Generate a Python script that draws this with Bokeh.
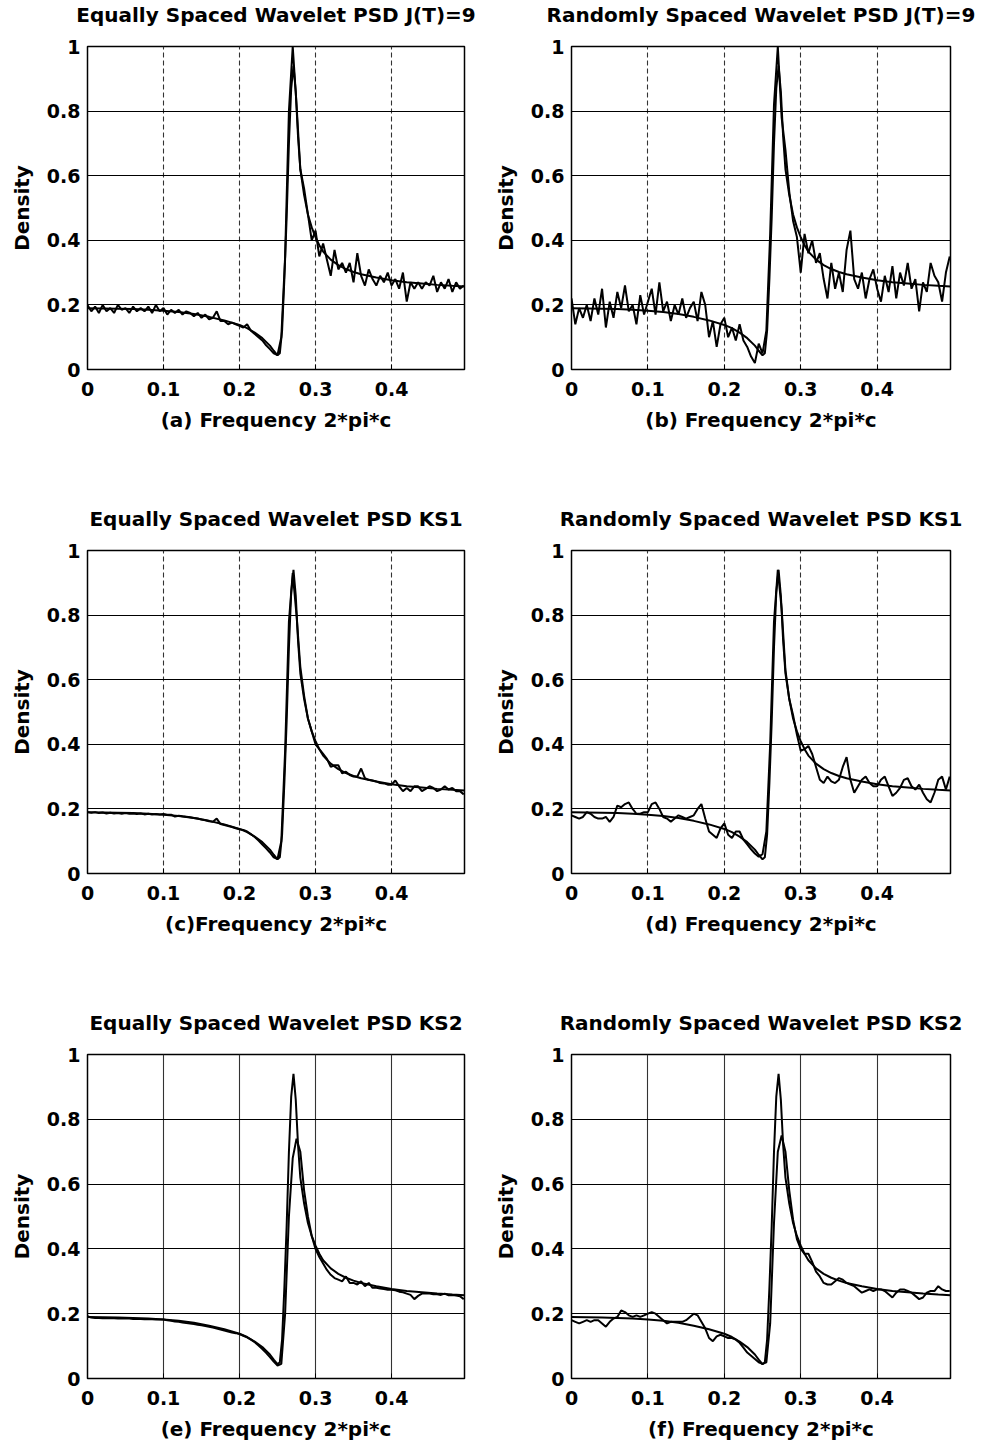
from bokeh.plotting import figure
from bokeh.layouts import column, row
from bokeh.models import FixedTicker, Range1d, CustomJSTickFormatter, Title
from bokeh.embed import file_html
from bokeh.resources import INLINE
import numpy as np

# ---------------- data ----------------
true_freq = [0, 0.02, 0.04, 0.06, 0.08, 0.10, 0.12, 0.14, 0.16, 0.18, 0.20, 0.21, 0.22, 0.23,
             0.24, 0.245, 0.25, 0.253, 0.256, 0.259, 0.262, 0.265, 0.268, 0.271, 0.274, 0.277,
             0.28, 0.285, 0.29, 0.295, 0.30, 0.305, 0.31, 0.32, 0.33, 0.34, 0.35, 0.36, 0.38,
             0.40, 0.42, 0.44, 0.46, 0.48, 0.496]
true_density = [0.190, 0.189, 0.188, 0.187, 0.185, 0.182, 0.178, 0.172, 0.163, 0.152, 0.138,
                0.128, 0.114, 0.097, 0.074, 0.058, 0.044, 0.050, 0.120, 0.280, 0.470, 0.700,
                0.870, 0.940, 0.860, 0.720, 0.620, 0.540, 0.480, 0.440, 0.410, 0.385, 0.365,
                0.340, 0.323, 0.311, 0.302, 0.295, 0.285, 0.276, 0.270, 0.266, 0.262, 0.259,
                0.257]

# estimates on a uniform frequency grid 0, 0.005, ..., 0.495
est_freq = np.round(np.arange(100) * 0.005, 3).tolist()

est_a = [0.20, 0.18, 0.195, 0.175, 0.20, 0.18, 0.19, 0.175, 0.20, 0.185,
         0.19, 0.175, 0.195, 0.18, 0.19, 0.18, 0.195, 0.175, 0.20, 0.18,
         0.19, 0.17, 0.185, 0.175, 0.185, 0.17, 0.18, 0.175, 0.165, 0.175,
         0.16, 0.17, 0.155, 0.16, 0.18, 0.15, 0.15, 0.14, 0.145, 0.14,
         0.135, 0.13, 0.14, 0.12, 0.11, 0.10, 0.09, 0.075, 0.063, 0.05,
         0.045, 0.10, 0.35, 0.80, 1.00, 0.82, 0.62, 0.56, 0.48, 0.40,
         0.43, 0.35, 0.39, 0.34, 0.29, 0.37, 0.31, 0.33, 0.30, 0.33,
         0.27, 0.36, 0.29, 0.26, 0.31, 0.28, 0.26, 0.29, 0.27, 0.30,
         0.26, 0.28, 0.25, 0.30, 0.21, 0.27, 0.25, 0.27, 0.25, 0.27,
         0.26, 0.29, 0.24, 0.27, 0.25, 0.28, 0.24, 0.27, 0.25, 0.26]

est_b = [0.22, 0.14, 0.19, 0.16, 0.20, 0.15, 0.22, 0.17, 0.25, 0.13,
         0.21, 0.16, 0.24, 0.19, 0.26, 0.18, 0.20, 0.14, 0.23, 0.17,
         0.21, 0.25, 0.17, 0.27, 0.18, 0.21, 0.15, 0.20, 0.17, 0.22,
         0.16, 0.19, 0.21, 0.15, 0.24, 0.20, 0.10, 0.15, 0.07, 0.14,
         0.16, 0.10, 0.13, 0.09, 0.14, 0.09, 0.07, 0.04, 0.02, 0.08,
         0.05, 0.12, 0.42, 0.82, 1.00, 0.78, 0.68, 0.55, 0.46, 0.41,
         0.30, 0.42, 0.36, 0.40, 0.33, 0.36, 0.28, 0.22, 0.33, 0.25,
         0.30, 0.24, 0.37, 0.43, 0.28, 0.25, 0.30, 0.22, 0.28, 0.31,
         0.25, 0.21, 0.29, 0.24, 0.32, 0.22, 0.30, 0.26, 0.33, 0.25,
         0.28, 0.18, 0.27, 0.24, 0.33, 0.29, 0.27, 0.21, 0.30, 0.35]

est_c = [0.190, 0.188, 0.190, 0.187, 0.189, 0.186, 0.188, 0.186, 0.187, 0.185,
         0.187, 0.185, 0.186, 0.184, 0.186, 0.183, 0.185, 0.183, 0.184, 0.183,
         0.184, 0.182, 0.182, 0.176, 0.179, 0.177, 0.176, 0.174, 0.172, 0.170,
         0.167, 0.165, 0.162, 0.160, 0.170, 0.153, 0.150, 0.147, 0.144, 0.140,
         0.137, 0.135, 0.130, 0.122, 0.113, 0.102, 0.090, 0.078, 0.065, 0.050,
         0.045, 0.10, 0.38, 0.78, 0.93, 0.80, 0.64, 0.55, 0.48, 0.44,
         0.40, 0.385, 0.37, 0.355, 0.33, 0.335, 0.335, 0.31, 0.315, 0.305,
         0.30, 0.30, 0.325, 0.295, 0.29, 0.288, 0.285, 0.28, 0.279, 0.275,
         0.275, 0.288, 0.27, 0.255, 0.265, 0.255, 0.27, 0.27, 0.255, 0.262,
         0.27, 0.265, 0.255, 0.26, 0.27, 0.26, 0.265, 0.255, 0.255, 0.245]

est_d = [0.18, 0.175, 0.17, 0.175, 0.19, 0.185, 0.175, 0.17, 0.17, 0.175,
         0.16, 0.175, 0.21, 0.205, 0.215, 0.22, 0.20, 0.185, 0.185, 0.19,
         0.19, 0.215, 0.22, 0.20, 0.175, 0.17, 0.16, 0.17, 0.18, 0.175,
         0.17, 0.175, 0.18, 0.20, 0.215, 0.17, 0.13, 0.12, 0.11, 0.14,
         0.155, 0.12, 0.11, 0.13, 0.13, 0.105, 0.09, 0.075, 0.062, 0.052,
         0.06, 0.13, 0.40, 0.78, 0.94, 0.82, 0.63, 0.54, 0.49, 0.43,
         0.38, 0.385, 0.395, 0.37, 0.33, 0.29, 0.28, 0.30, 0.285, 0.28,
         0.29, 0.33, 0.36, 0.29, 0.25, 0.27, 0.29, 0.30, 0.28, 0.27,
         0.27, 0.29, 0.30, 0.27, 0.24, 0.25, 0.265, 0.29, 0.295, 0.27,
         0.26, 0.275, 0.25, 0.23, 0.22, 0.25, 0.29, 0.30, 0.26, 0.30]

est_e = [0.192, 0.188, 0.187, 0.187, 0.186, 0.186, 0.186, 0.186, 0.185, 0.185,
         0.185, 0.185, 0.184, 0.184, 0.184, 0.183, 0.183, 0.183, 0.182, 0.182,
         0.182, 0.180, 0.178, 0.176, 0.175, 0.173, 0.171, 0.170, 0.168, 0.166,
         0.164, 0.162, 0.160, 0.157, 0.154, 0.151, 0.148, 0.145, 0.142, 0.140,
         0.137, 0.132, 0.127, 0.120, 0.112, 0.102, 0.091, 0.079, 0.066, 0.052,
         0.040, 0.045, 0.20, 0.50, 0.68, 0.74, 0.70, 0.58, 0.50, 0.44,
         0.40, 0.375, 0.355, 0.335, 0.32, 0.31, 0.305, 0.30, 0.315, 0.295,
         0.295, 0.29, 0.30, 0.285, 0.295, 0.28, 0.28, 0.278, 0.276, 0.274,
         0.274, 0.272, 0.268, 0.266, 0.262, 0.258, 0.245, 0.255, 0.262, 0.262,
         0.262, 0.260, 0.260, 0.258, 0.262, 0.257, 0.258, 0.256, 0.254, 0.245]

est_f = [0.18, 0.175, 0.17, 0.175, 0.18, 0.175, 0.18, 0.18, 0.17, 0.16,
         0.175, 0.185, 0.19, 0.21, 0.205, 0.195, 0.19, 0.195, 0.19, 0.195,
         0.20, 0.205, 0.20, 0.19, 0.18, 0.17, 0.175, 0.175, 0.175, 0.175,
         0.18, 0.19, 0.20, 0.195, 0.175, 0.155, 0.125, 0.115, 0.13, 0.135,
         0.13, 0.125, 0.125, 0.12, 0.11, 0.095, 0.08, 0.07, 0.06, 0.05,
         0.045, 0.05, 0.17, 0.48, 0.70, 0.75, 0.70, 0.58, 0.49, 0.43,
         0.40, 0.385, 0.385, 0.36, 0.33, 0.315, 0.295, 0.29, 0.29, 0.30,
         0.31, 0.305, 0.295, 0.29, 0.285, 0.275, 0.265, 0.27, 0.275, 0.27,
         0.275, 0.275, 0.27, 0.26, 0.25, 0.265, 0.275, 0.275, 0.27, 0.265,
         0.255, 0.245, 0.25, 0.265, 0.27, 0.27, 0.285, 0.275, 0.27, 0.27]

titles = ["Equally Spaced Wavelet PSD J(T)=9", "Randomly Spaced Wavelet PSD J(T)=9",
          "Equally Spaced Wavelet PSD KS1", "Randomly Spaced Wavelet PSD KS1",
          "Equally Spaced Wavelet PSD KS2", "Randomly Spaced Wavelet PSD KS2"]
xlabels = ["(a) Frequency 2*pi*c", "(b) Frequency 2*pi*c",
           "(c)Frequency 2*pi*c", "(d) Frequency 2*pi*c",
           "(e) Frequency 2*pi*c", "(f) Frequency 2*pi*c"]
estimates = [est_a, est_b, est_c, est_d, est_e, est_f]
x_ticks = [0, 0.1, 0.2, 0.3, 0.4]
y_ticks = [0, 0.2, 0.4, 0.6, 0.8, 1]
y_label = "Density"

FONT = "DejaVu Sans"


def make_panel(k, width, bl, br, height, bt, bb):
    p = figure(width=width, height=height, output_backend="svg", toolbar_location=None,
               x_range=Range1d(0, 0.496), y_range=Range1d(0, 1),
               min_border_left=bl, min_border_right=br,
               min_border_top=bt, min_border_bottom=bb,
               title=None)
    p.background_fill_color = "white"
    p.border_fill_color = "white"
    p.outline_line_color = "black"
    p.outline_line_width = 1.5
    p.outline_line_alpha = 1.0

    # spacer between frame and title, then the title itself
    p.add_layout(Title(text=" ", text_font_size="1px", standoff=15), "above")
    p.add_layout(Title(text=titles[k], align="center", vertical_align="top", standoff=0,
                       text_font=FONT, text_font_size="20px", text_font_style="bold",
                       text_color="black"), "above")

    fmt = CustomJSTickFormatter(code="return tick.toString();")
    p.xaxis.ticker = FixedTicker(ticks=x_ticks)
    p.yaxis.ticker = FixedTicker(ticks=y_ticks)
    p.xaxis.formatter = fmt
    p.yaxis.formatter = fmt
    for ax in (p.xaxis, p.yaxis):
        ax.axis_line_color = None
        ax.major_tick_in = 5
        ax.major_tick_out = 0
        ax.major_tick_line_color = "black"
        ax.minor_tick_line_color = None
        ax.major_label_text_font = FONT
        ax.major_label_text_font_size = "19px"
        ax.major_label_text_font_style = "bold"
        ax.major_label_text_color = "black"
        ax.axis_label_text_font = FONT
        ax.axis_label_text_font_size = "20px"
        ax.axis_label_text_font_style = "bold"
        ax.axis_label_text_color = "black"
    p.xaxis.axis_label = xlabels[k]
    p.yaxis.axis_label = y_label
    p.xaxis.major_label_standoff = 12
    p.xaxis.axis_label_standoff = 9
    p.yaxis.major_label_standoff = 7
    p.yaxis.axis_label_standoff = 10

    p.ygrid.ticker = FixedTicker(ticks=[0.2, 0.4, 0.6, 0.8])
    p.ygrid.grid_line_color = "black"
    p.ygrid.grid_line_width = 1.2
    p.ygrid.grid_line_alpha = 1.0
    p.xgrid.ticker = FixedTicker(ticks=[0.1, 0.2, 0.3, 0.4])
    p.xgrid.grid_line_color = "#333333"
    p.xgrid.grid_line_width = 1.1
    p.xgrid.grid_line_alpha = 1.0
    if k < 4:
        p.xgrid.grid_line_dash = "5 3"

    p.line(true_freq, true_density, line_color="black", line_width=2)
    p.line(est_freq, estimates[k], line_color="black", line_width=2)
    return p


rows = []
for r in range(3):
    h = 504 if r < 2 else 437
    bb = 135 if r < 2 else 67
    left = make_panel(2 * r, 490, 87, 26, h, 46, bb)
    right = make_panel(2 * r + 1, 496, 81, 36, h, 46, bb)
    rows.append(row(left, right))

layout = column(*rows)
open("out.html", "w").write(file_html(layout, INLINE))
